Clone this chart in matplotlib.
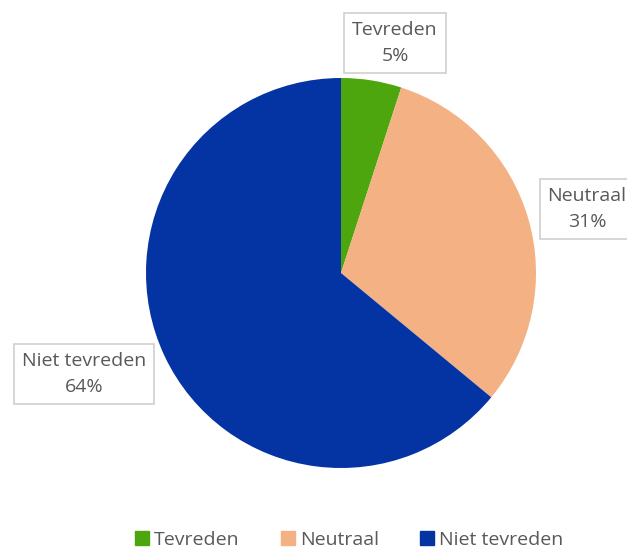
import matplotlib.pyplot as plt
from matplotlib.lines import Line2D

plt.rcParams['font.family'] = ['Open Sans', 'DejaVu Sans']

labels = ['Tevreden', 'Neutraal', 'Niet tevreden']
values = [5, 31, 64]
colors = ['#4ea60f', '#f4b183', '#0433a3']
text_color = '#595959'

fig = plt.figure(figsize=(6.27, 5.52), dpi=100)
ax = fig.add_axes([(341 - 195) / 627, (552 - 273 - 195) / 552, 390 / 627, 390 / 552])
ax.pie(values, colors=colors, startangle=90, counterclock=False,
       wedgeprops=dict(linewidth=0))
ax.set_xlim(-1, 1)
ax.set_ylim(-1, 1)
ax.set_aspect('equal')

# data labels in boxes (figure pixel positions)
label_pos = [(395, 43), (587, 209), (84, 374)]
box = dict(boxstyle='square,pad=0.4', facecolor='white', edgecolor='#d0d0d0', linewidth=1.2)
for lab, val, (px, py) in zip(labels, values, label_pos):
    fig.text(px / 627, 1 - py / 552, '%s\n%d%%' % (lab, val), ha='center', va='center',
             fontsize=14, color=text_color, linespacing=1.55, bbox=box)

handles = [Line2D([0], [0], marker='s', linestyle='none', markersize=10,
                  markerfacecolor=c, markeredgecolor=c) for c in colors]
fig.legend(handles, labels, loc='center', bbox_to_anchor=(0.555, 1 - 540 / 552), ncol=3,
           frameon=False, fontsize=14, handletextpad=0.1, columnspacing=2.0,
           labelcolor=text_color, handlelength=1.0)

fig.savefig('out.png', dpi=100)
